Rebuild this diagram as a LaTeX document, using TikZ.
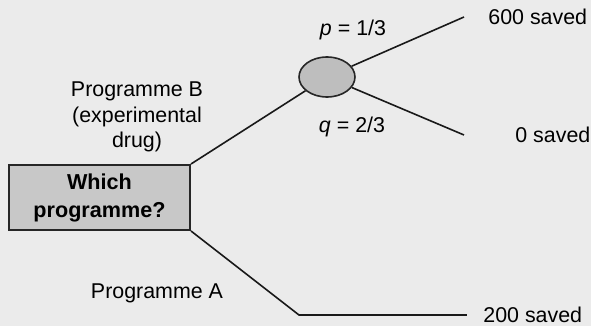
\documentclass[tikz,border=0pt]{standalone}
\usepackage{fontspec}
\setmainfont{Liberation Sans}
\usepackage{xcolor}
\definecolor{bggrey}{HTML}{EBEBEB}
\definecolor{boxgrey}{HTML}{C8C8C8}
\definecolor{chancegrey}{HTML}{BEBEBE}
\usetikzlibrary{positioning,shapes.geometric}
\tikzset{
  dbox/.style  ={rectangle, draw=black!85, line width=1pt, fill=boxgrey,
                 minimum width=90.5pt, minimum height=32.5pt, align=center,
                 font=\bfseries\fontsize{10.8}{14}\selectfont},
  chance/.style={ellipse, draw=black!85, line width=0.8pt, fill=chancegrey,
                 minimum width=28pt, minimum height=20pt, inner sep=0pt},
  branch/.style={line width=0.8pt, draw=black!90},
  lbl/.style   ={font=\fontsize{10.7}{12.6}\selectfont, inner sep=0pt, align=center},
  outc/.style  ={lbl, anchor=west},
}

\begin{document}
\begin{tikzpicture}[x=0.5pt, y=-0.5pt]
  \path[use as bounding box, fill=bggrey] (0,0) rectangle (591,326);

  % decision and chance nodes
  \node[dbox] (which) at (99.5,197.5) {Which\\programme?};
  \node[chance] (risk) at (327,77) {};

  % branch ends
  \coordinate (endhi) at (464,17);
  \coordinate (endmid) at (464,135);
  \coordinate (bend) at (299,315);
  \coordinate (endlo) at (467,315);

  \draw[branch] (which.north east) -- (risk);
  \draw[branch] (risk) -- (endhi);
  \draw[branch] (risk) -- (endmid);
  \draw[branch] (which.south east) -- (bend) -- (endlo);

  % labels
  \node[lbl] (progB) at (137,117) {Programme B\\(experimental\\drug)};
  \node[lbl] (progA) at (157,293) {Programme A};
  \node[lbl] (pval) at (353,30) {{\itshape p} = 1/3};
  \node[lbl] (qval) at (352,127) {{\itshape q} = 2/3};
  \node[outc, right=12pt of endhi] (saved600) {600 saved};
  \node[outc, right=25.5pt of endmid] (saved0) {0 saved};
  \node[outc, right=8pt of endlo] (saved200) {200 saved};
\end{tikzpicture}
\end{document}
